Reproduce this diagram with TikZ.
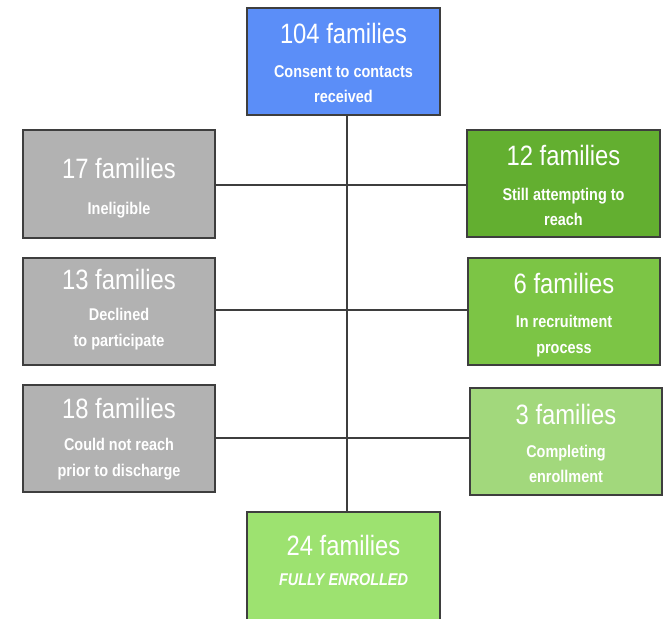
\documentclass[tikz,border=0pt]{standalone}
\usepackage{fontspec}
\newfontfamily\narrowsans[FakeStretch=0.85]{Liberation Sans}
\definecolor{topblue}{HTML}{5B8EF8}
\definecolor{outgray}{HTML}{B2B2B2}
\definecolor{greenA}{HTML}{63AF30}
\definecolor{greenB}{HTML}{7CC545}
\definecolor{greenC}{HTML}{A2D87C}
\definecolor{greenD}{HTML}{9DE270}
\definecolor{edge}{HTML}{3E3E3E}
\tikzset{
  box/.style={draw=edge, line width=2pt, rectangle, inner sep=0pt},
  count/.style={anchor=base, text=white, font=\narrowsans\fontsize{28}{30}\selectfont, inner sep=0pt},
  detail/.style={anchor=base, text=white, font=\narrowsans\bfseries\fontsize{17}{25}\selectfont, inner sep=0pt},
  link/.style={draw=edge, line width=1.4pt}
}
\newcommand{\boxat}[6]{% name, x1, y1, x2, y2, fill
  \node[box, fill=#6, minimum width={#4-#2}, minimum height={#5-#3}]
    (#1) at ({(#2+#4)/2},{(#3+#5)/2}) {};}
\begin{document}
\begin{tikzpicture}[x=1pt,y=-1pt]
\clip (0,0) rectangle (663,618);
\fill[white] (0,0) rectangle (663,618);
\coordinate (spine) at (347,0);

% connectors behind the boxes
\boxat{top}{247}{8}{440}{115}{topblue}
\boxat{ineligible}{23}{130}{215}{238}{outgray}
\boxat{declined}{23}{258}{215}{365}{outgray}
\boxat{noreach}{23}{385}{215}{492}{outgray}
\boxat{attempting}{467}{130}{660}{237}{greenA}
\boxat{recruiting}{468}{258}{660}{365}{greenB}
\boxat{completing}{470}{388}{662}{495}{greenC}
\boxat{enrolled}{247}{512}{440}{630}{greenD}

\draw[link] (top.south -| spine) -- (enrolled.north -| spine);
\draw[link] (ineligible.east |- 0,185) -- (attempting.west |- 0,185);
\draw[link] (declined.east |- 0,310) -- (recruiting.west |- 0,310);
\draw[link] (noreach.east |- 0,438) -- (completing.west |- 0,438);

% texts
\node[count] (topc) at (343.5,44) {104 families};
\node[detail] (topd1) at (343.5,77) {Consent to contacts};
\node[detail] (topd2) at (343.5,102) {received};

\node[count] (inelc) at (119,178) {17 families};
\node[detail] (ineld) at (119,214) {Ineligible};

\node[count] (declc) at (119,289) {13 families};
\node[detail] (decld1) at (119,320) {Declined};
\node[detail] (decld2) at (119,346) {to participate};

\node[count] (noreachc) at (119,418) {18 families};
\node[detail] (noreachd1) at (119,450) {Could not reach};
\node[detail] (noreachd2) at (119,476) {prior to discharge};

\node[count] (attc) at (563.5,165) {12 families};
\node[detail] (attd1) at (563.5,200) {Still attempting to};
\node[detail] (attd2) at (563.5,225) {reach};

\node[count] (recc) at (564,293) {6 families};
\node[detail] (recd1) at (564,327) {In recruitment};
\node[detail] (recd2) at (564,353) {process};

\node[count] (compc) at (566,424) {3 families};
\node[detail] (compd1) at (566,457) {Completing};
\node[detail] (compd2) at (566,482) {enrollment};

\node[count] (enrc) at (343.5,555) {24 families};
\node[detail, font=\narrowsans\bfseries\itshape\fontsize{17}{25}\selectfont] (enrd) at (343.5,585) {FULLY ENROLLED};
\end{tikzpicture}
\end{document}
